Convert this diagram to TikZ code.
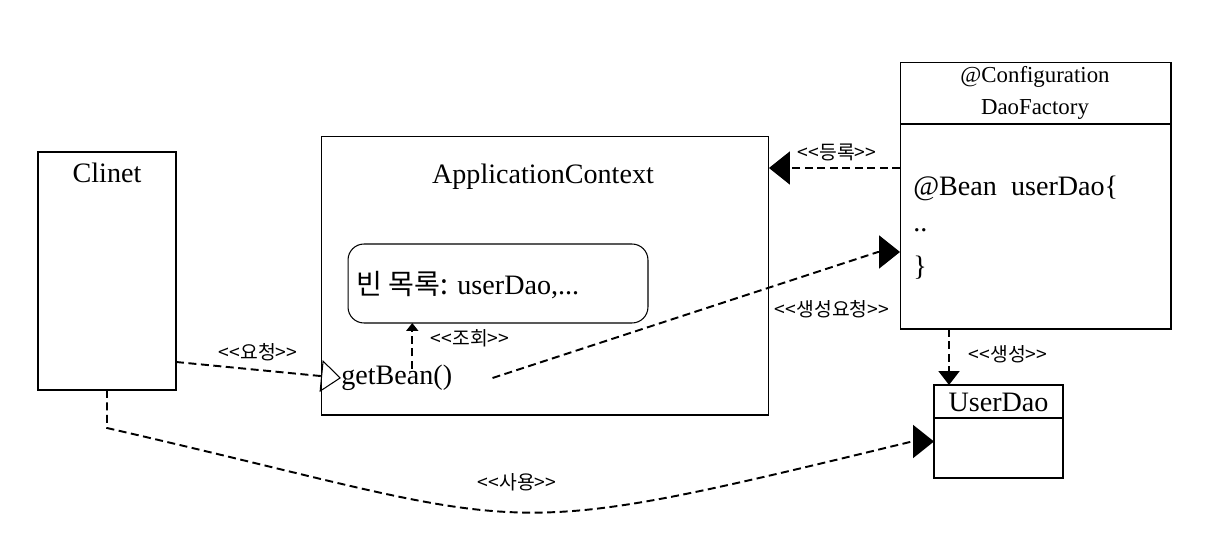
\documentclass[tikz,border=0pt]{standalone}
\usepackage{fontspec}
\setmainfont{Liberation Serif}
\newfontfamily\kr{Noto Sans CJK KR}
\usepackage{tikz}
\usetikzlibrary{arrows.meta}
\tikzstyle{box} = [draw,line width=0.6pt,inner sep=0pt,outer sep=0pt]
\tikzstyle{big} = [inner sep=0pt,font=\fontsize{16}{19}\selectfont]
\tikzstyle{small} = [inner sep=0pt,font=\fontsize{13}{15}\selectfont]
\tikzstyle{stereo} = [inner sep=0pt,font=\kr\fontsize{11}{13}\selectfont]
\tikzstyle{dep} = [line width=1.1pt,dash pattern=on 0.16cm off 0.09cm]
\tikzstyle{bigtip} = [-{Triangle[length=0.42cm,width=0.66cm]}]
\newcommand{\classline}[2]{
    \draw[line width=0.6pt] ([yshift=-#2]#1.north west) -- ([yshift=-#2]#1.north east);
}
\begin{document}
\begin{tikzpicture}[x=0.02cm,y=-0.02cm]
    \useasboundingbox (0,0) rectangle (1228,551);

	\node(clinet) at (107,271) [box,minimum width=2.76cm,minimum height=4.76cm] {};
	\node(clinettitle) at (107,173) [big] {Clinet};

	\node(appctx) at (545,275.5) [box,minimum width=8.96cm,minimum height=5.58cm] {};
	\node(appctxtitle) at (543,177) [big] {ApplicationContext};
	\node(beans) at (498,283.5) [box,rounded corners=0.32cm,minimum width=6cm,minimum height=1.58cm] {};
	\node(beanstext) at (356,285) [big,anchor=west] {{\kr 빈 목록:} userDao,...};
	\node(getbean) at (341,378) [big,anchor=west] {getBean()};

	\node(factory) at (1035.5,195.5) [box,minimum width=5.42cm,minimum height=5.34cm] {};
	\classline{factory}{1.24cm}
	\node(config) at (1035,77) [small] {@Configuration};
	\node(factoryname) at (1035,109) [small] {DaoFactory};
	\node(beanline) at (913,188) [big,anchor=west] {@Bean\ \ userDao\{};
	\node(dotsline) at (913,230) [big,anchor=west] {..};
	\node(closeline) at (913,268) [big,anchor=west] {\}};

	\node(userdao) at (998.5,431.5) [box,minimum width=2.58cm,minimum height=1.86cm] {};
	\classline{userdao}{0.66cm}
	\node(userdaoname) at (998.5,402) [big] {UserDao};

	% connectors (big tips sit level, so each ends in a short flat piece)
	\draw[dep,-{Triangle[open,line width=0.6pt,length=0.4cm,width=0.64cm]}] ([yshift=-1.82cm]clinet.east) -- (getbean.west);
	\node(request) at (258,352) [stereo] {<<요청>>};

	\draw[dep,-{Triangle[length=0.16cm,width=0.24cm]}] ([xshift=0.31cm,yshift=-0.08cm]getbean.north) -- ([xshift=0.31cm]getbean.north |- beans.south);
	\node(lookup) at (470,338) [stereo] {<<조회>>};

	\draw[dep,bigtip] ([xshift=0.8cm]getbean.east) -- ([xshift=-0.44cm,yshift=-1.13cm]factory.west) -- ([yshift=-1.13cm]factory.west);
	\node(createreq) at (832,309) [stereo] {<<생성요청>>};

	\draw[dep,bigtip] ([yshift=0.55cm]factory.west) -- ([yshift=0.55cm]factory.west -| appctx.east);
	\node(register) at (837,152) [stereo] {<<등록>>};

	\draw[dep,-{Triangle[length=0.28cm,width=0.42cm]}] ([xshift=-1.73cm]factory.south) -- ([xshift=-1.73cm]factory.south |- userdao.north);
	\node(create) at (1008,354) [stereo] {<<생성>>};

	\coordinate(bend) at (107,428);
	\draw[dep,bigtip] (clinet.south) -- (bend) .. controls (547,529) and (477,547) .. ([xshift=-0.44cm,yshift=-0.2cm]userdao.west) -- ([yshift=-0.2cm]userdao.west);
	\node(use) at (517,482) [stereo] {<<사용>>};
\end{tikzpicture}
\end{document}
